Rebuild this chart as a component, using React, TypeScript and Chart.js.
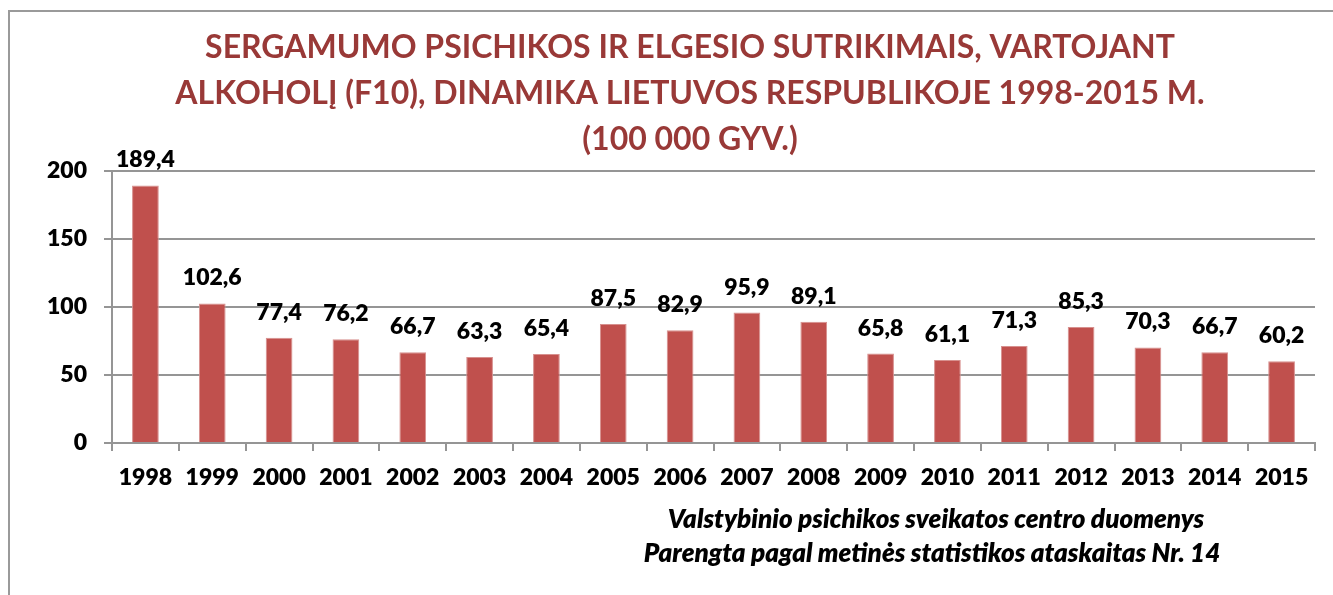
import React, { useEffect, useRef } from "react";
import { Chart, registerables } from "chart.js";

Chart.register(...registerables);

const years = ["1998","1999","2000","2001","2002","2003","2004","2005","2006","2007","2008","2009","2010","2011","2012","2013","2014","2015"];
const incidence = [189.4,102.6,77.4,76.2,66.7,63.3,65.4,87.5,82.9,95.9,89.1,65.8,61.1,71.3,85.3,70.3,66.7,60.2];
const titleLines = [
  "SERGAMUMO PSICHIKOS IR ELGESIO SUTRIKIMAIS, VARTOJANT",
  "ALKOHOLĮ (F10), DINAMIKA LIETUVOS RESPUBLIKOJE 1998-2015 M.",
  "(100 000 GYV.)",
];
const sourceLines = [
  "Valstybinio psichikos sveikatos centro duomenys",
  "Parengta pagal metinės statistikos ataskaitas Nr. 14",
];

const FONT = "Lato";
const GRID = "#959595";
const NUM_WEIGHT = "800";

const valueLabels = {
  id: "valueLabels",
  afterDatasetsDraw(chart: any) {
    const ctx = chart.ctx;
    const meta = chart.getDatasetMeta(0);
    ctx.save();
    ctx.font = `${NUM_WEIGHT} 23px ${FONT}`;
    ctx.fillStyle = "#000";
    ctx.textAlign = "center";
    ctx.textBaseline = "alphabetic";
    meta.data.forEach((el: any, i: number) => {
      const v = chart.data.datasets[0].data[i] as number;
      ctx.fillText(v.toFixed(1).replace(".", ","), el.x, el.y - 18);
    });
    ctx.restore();
  },
};

const sourceNote = {
  id: "sourceNote",
  afterDraw(chart: any) {
    const ctx = chart.ctx;
    ctx.save();
    ctx.font = `italic 800 26px ${FONT}`;
    ctx.fillStyle = "#000";
    ctx.textAlign = "center";
    ctx.textBaseline = "alphabetic";
    ctx.fillText(sourceLines[0], 926, 516);
    ctx.fillText(sourceLines[1], 922, 550);
    ctx.restore();
  },
};

export default function App() {
  const ref = useRef<HTMLCanvasElement | null>(null);
  useEffect(() => {
    if (!ref.current) return;
    const chart = new Chart(ref.current, {
      type: "bar",
      data: {
        labels: years,
        datasets: [
          {
            data: incidence,
            backgroundColor: "#C0504D",
            borderColor: "#D7908E",
            borderWidth: 1,
            barPercentage: 0.4,
            categoryPercentage: 1,
            yAxisID: "y",
          },
        ],
      },
      options: {
        responsive: false,
        animation: false,
        layout: { padding: { left: 0, right: 0, top: 0, bottom: 0 } },
        plugins: {
          legend: { display: false },
          tooltip: { enabled: false },
          title: {
            display: true,
            text: titleLines,
            color: "#993937",
            font: { family: FONT, size: 32, weight: "bold", lineHeight: 46 / 32 },
            padding: { top: 13, bottom: 8 },
          },
        },
        scales: {
          x: {
            afterFit: (s: any) => { s.height = 152; },
            grid: { display: true, drawOnChartArea: false, drawTicks: true, tickLength: 8, offset: true, color: GRID, lineWidth: 2 },
            border: { display: true, color: GRID, width: 2 },
            ticks: { color: "#000", font: { family: FONT, size: 23, weight: NUM_WEIGHT }, padding: 13, maxRotation: 0, autoSkip: false },
          },
          y: {
            position: "left",
            min: 0,
            max: 200,
            afterFit: (s: any) => { s.width = 102; },
            grid: { color: GRID, lineWidth: 2, drawTicks: true, tickLength: 8 },
            border: { display: true, color: GRID, width: 2 },
            ticks: { stepSize: 50, color: "#000", font: { family: FONT, size: 23, weight: NUM_WEIGHT }, padding: 17 },
          },
          yFrame: {
            position: "right",
            min: 0,
            max: 200,
            afterFit: (s: any) => { s.width = 55; },
            grid: { display: false, drawTicks: false },
            border: { display: false },
            ticks: { display: false },
          },
        },
      },
      plugins: [valueLabels, sourceNote],
    });
    return () => chart.destroy();
  }, []);

  return (
    <div
      style={{
        position: "fixed",
        left: 8,
        top: 10,
        width: 1325,
        height: 585,
        overflow: "hidden",
        boxSizing: "border-box",
        borderLeft: "2px solid #9a9a9a",
        borderTop: "2px solid #9a9a9a",
        background: "#fff",
      }}
    >
      <canvas ref={ref} width={1360} height={583} style={{ display: "block" }} />
    </div>
  );
}
